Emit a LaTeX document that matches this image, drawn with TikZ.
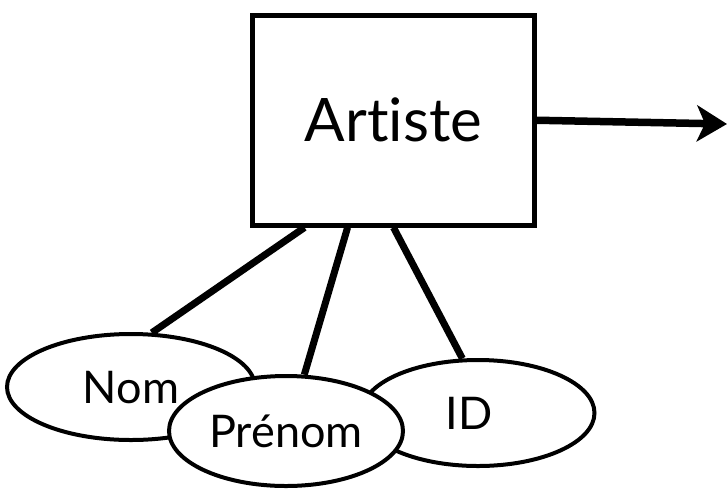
\documentclass[tikz,border=0pt]{standalone}
\usepackage{fontspec}
\setmainfont{Lato}[Ligatures={NoCommon,NoRare,NoDiscretionary},Contextuals=NoAlternate]
\usetikzlibrary{shapes.geometric,arrows.meta,calc}
\tikzset{
  entity/.style={draw=black, line width=5pt, fill=white, minimum width=282pt, minimum height=209.5pt, inner sep=0pt, font=\fontsize{60}{60}\selectfont, text height=43pt, text depth=0pt},
  attrib/.style={ellipse, draw=black, line width=4pt, fill=white, inner sep=0pt, font=\fontsize{45}{45}\selectfont, text height=32pt, text depth=0pt},
  link/.style={line width=7pt},
  relarrow/.style={line width=7.5pt, -{Stealth[length=30pt,width=36pt,inset=8pt]}}
}
\begin{document}
\begin{tikzpicture}[x=1pt,y=-1pt]
\useasboundingbox (0,0) rectangle (728,488);
\node[entity] (art) at (393.5,120.25) {Artiste};
\node[attrib, minimum width=248pt, minimum height=106pt] (nom) at (131,387) {Nom};
\node[attrib, minimum width=233pt, minimum height=106pt] (id) at (478,413) {\hspace{-18pt}ID};
\node[attrib, minimum width=234pt, minimum height=110pt] (pre) at (286,431) {Prénom};
\coordinate (tip) at (727,124);
\draw[relarrow] (art.east) -- (tip);
\draw[link] ($(art.south west)!0.19!(art.south east)$) -- (nom.69);
\draw[link] ($(art.south west)!0.34!(art.south east)$) -- (pre.72);
\draw[link] ($(art.south west)!0.50!(art.south east)$) -- (id.106);
\end{tikzpicture}
\end{document}
